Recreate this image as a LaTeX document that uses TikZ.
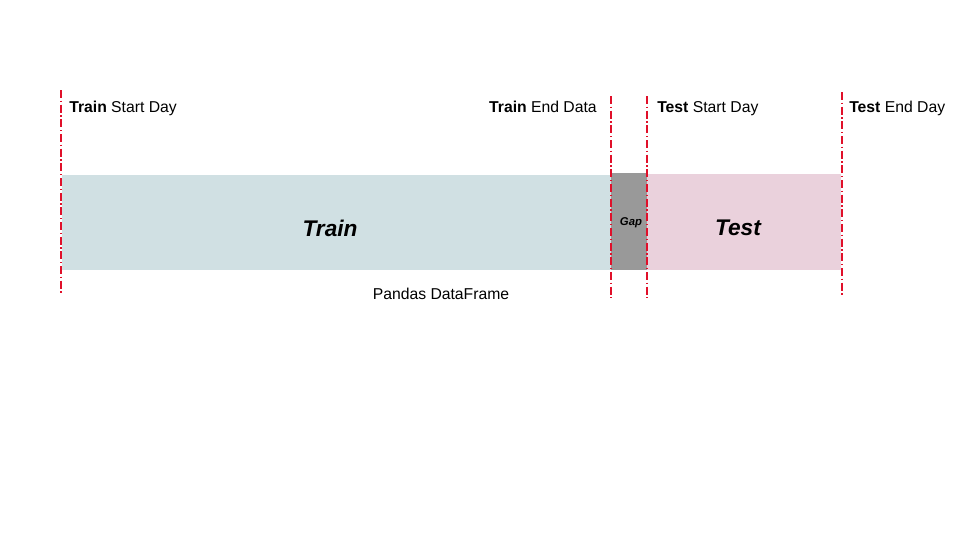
\documentclass[tikz,border=0pt]{standalone}
\usepackage{fontspec}
\setmainfont{Liberation Sans}
\definecolor{trainc}{HTML}{D0E0E3}
\definecolor{gapc}{HTML}{999999}
\definecolor{testc}{HTML}{EAD1DC}
\definecolor{linec}{HTML}{E0102A}
\begin{document}
\begin{tikzpicture}[x=0.75pt,y=-0.75pt,
  marker/.style={draw=linec, line width=0.9pt, dash pattern=on 6pt off 2pt on 1pt off 2pt},
  lbl/.style={font=\fontsize{11.8}{14}\selectfont, inner sep=0pt},
  big/.style={font=\fontsize{17}{20}\selectfont\bfseries\itshape, inner sep=0pt}]
\useasboundingbox (0,0) rectangle (960,540);
\fill[trainc] (62,175) rectangle (611,270);
\fill[gapc] (611,173) rectangle (647,270);
\fill[testc] (647,174) rectangle (841,270);
\node[big] (train) at (330,228) {Train};
\node[big] (test) at (738,228) {Test};
\node[inner sep=0pt, font=\fontsize{8.5}{10}\selectfont\bfseries\itshape] (gap) at (631,223) {Gap};
\coordinate (l1a) at (61,90); \coordinate (l1b) at (61,295);
\coordinate (l2a) at (611,96); \coordinate (l2b) at (611,298);
\coordinate (l3a) at (647,96); \coordinate (l3b) at (647,298);
\coordinate (l4a) at (842,92); \coordinate (l4b) at (842,295);
\draw[marker] (l1a) -- (l1b);
\draw[marker] (l2a) -- (l2b);
\draw[marker] (l3a) -- (l3b);
\draw[marker] (l4a) -- (l4b);
\node[lbl, anchor=base west] (tsd) at (69,112) {\textbf{Train} Start Day};
\node[lbl, anchor=base east] (ted) at (597,112) {\textbf{Train} End Data};
\node[lbl, anchor=base west] (ssd) at (657,112) {\textbf{Test} Start Day};
\node[lbl, anchor=base west] (sed) at (849,112) {\textbf{Test} End Day};
\node[lbl, anchor=base] (pdf) at (441,299) {Pandas DataFrame};
\end{tikzpicture}
\end{document}
